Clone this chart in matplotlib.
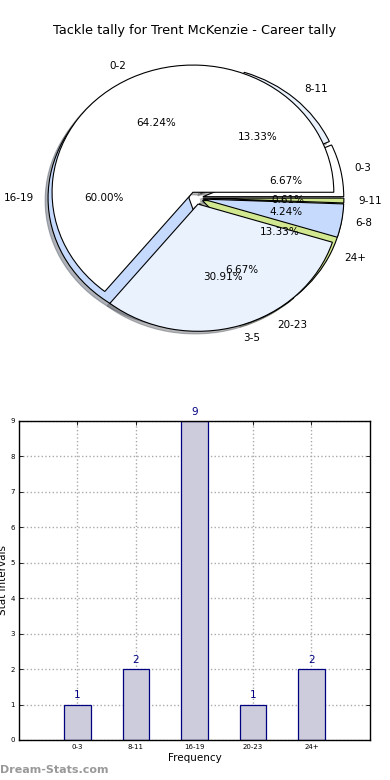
import matplotlib
matplotlib.use("Agg")
import matplotlib.pyplot as plt
import numpy as np

# pie data (two overlaid pies, as in the reference)
labels_a = ["0-2", "3-5", "6-8", "9-11"]
values_a = [106, 51, 7, 1]
labels_b = ["0-3", "8-11", "16-19", "20-23", "24+"]
values_b = [1, 2, 9, 1, 2]

# bar data
bar_labels = ["0-3", "8-11", "16-19", "20-23", "24+"]
bar_values = [1, 2, 9, 1, 2]

colores = ["#ffffff", "#eaf2fe", "#c6dafd", "#cfe68c", "#d2e890"]

fig = plt.figure(figsize=(3.9, 7.8), dpi=100)
fig.text(0.5, 0.9615, "Tackle tally for Trent McKenzie - Career tally",
         ha="center", va="center", fontsize=9.3)

sombra = {"ox": -0.015, "oy": -0.015, "shade": 0.6, "alpha": 0.45}
ax1 = fig.add_axes([0.051, 0.5423, 0.903, 0.4077])
ax1.pie(values_b, labels=labels_b, colors=colores[:5], autopct="%1.2f%%",
        explode=[0.05] * 5, shadow=sombra,
        wedgeprops={"linewidth": 0.8, "edgecolor": "black"},
        textprops={"fontsize": 7.5})
ax1.pie(values_a, labels=labels_a, colors=colores[:4], autopct="%1.2f%%",
        explode=[0.05] * 4, shadow=sombra,
        wedgeprops={"linewidth": 0.8, "edgecolor": "black"},
        textprops={"fontsize": 7.5})
ax1.set_aspect("auto")
ax1.set_xlim(-1.25, 1.25)
ax1.set_ylim(-1.25, 1.25)
ax1.axis("off")

ax2 = fig.add_axes([0.0487, 0.0513, 0.9, 0.4090])
x = np.arange(len(bar_values))
barras = ax2.bar(x, bar_values, width=0.45, color="#ccccdd",
                 edgecolor="#000080", linewidth=0.9, zorder=2)
for xi, v in zip(x, bar_values):
    ax2.text(xi, v + 0.12, str(v), ha="center", va="bottom",
             fontsize=7.5, color="#000080")
ax2.set_xlim(-1, 5)
ax2.set_ylim(0, 9)
ax2.set_xticks(x)
ax2.set_xticklabels(bar_labels)
ax2.set_yticks(range(10))
ax2.tick_params(labelsize=5, direction="in", top=True, right=True,
                length=3, width=0.6, pad=3)
ax2.grid(True, linestyle=":", color="#aaaaaa", linewidth=1, zorder=0)
ax2.set_axisbelow(True)
ax2.set_xlabel("Frequency", fontsize=7.5, labelpad=2)
ax2.set_ylabel("Stat Intervals", fontsize=7.5, labelpad=2)
for s in ax2.spines.values():
    s.set_linewidth(1)

fig.text(0.0, 0.0128, "Dream-Stats.com", fontsize=8, color="#999999",
         fontweight="bold", ha="left", va="center")

fig.savefig("out.png", dpi=100)
